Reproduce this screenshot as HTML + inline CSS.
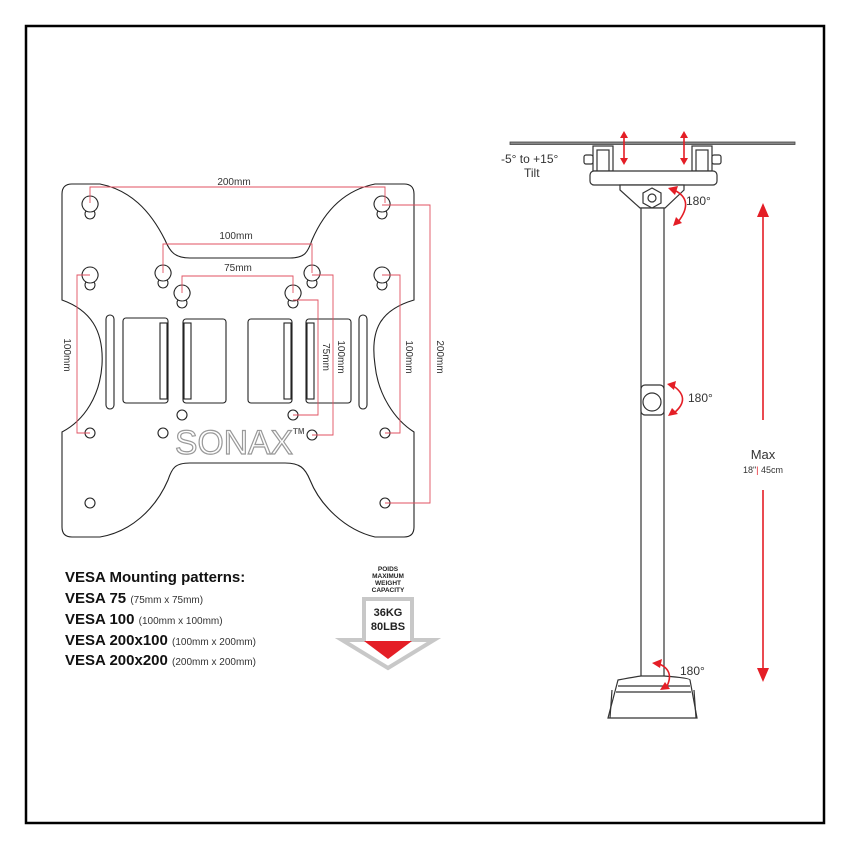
<!DOCTYPE html>
<html><head><meta charset="utf-8"><style>
html,body{margin:0;padding:0;background:#fff}
svg{display:block}
text{font-family:"Liberation Sans",sans-serif}
</style></head><body>
<svg width="850" height="850" viewBox="0 0 850 850" xmlns="http://www.w3.org/2000/svg">
<rect x="0" y="0" width="850" height="850" fill="#fff"/>
<rect x="26" y="26" width="798" height="797" fill="none" stroke="#000" stroke-width="2.5"/>

<!-- plate -->
<g fill="none" stroke="#222" stroke-width="1.1">
<path d="M72,184 L100,184 C130,190 150,210 165,240 C170,252 175,258 190,258 L290,258 C305,258 308,252 312,240 C325,210 345,190 375,184 L404,184 Q414,184 414,194 L414,300 C380,310 370,330 375,365 C378,395 395,420 414,432 L414,527 Q414,537 404,537 L375,537 C345,530 320,505 310,480 C305,468 300,463 285,463 L190,463 C175,463 172,468 168,480 C155,510 130,532 100,537 L72,537 Q62,537 62,527 L62,432 C85,420 100,395 102,365 C104,330 90,310 62,300 L62,194 Q62,184 72,184 Z"/>
<path d="M90,212 a8,8 0 1,1 0.1,0 M86,211 a5,5 0 1,0 8,0"/>
<path d="M382,212 a8,8 0 1,1 0.1,0 M378,211 a5,5 0 1,0 8,0"/>
<path d="M90,283 a8,8 0 1,1 0.1,0 M86,282 a5,5 0 1,0 8,0"/>
<path d="M163,281 a8,8 0 1,1 0.1,0 M159,280 a5,5 0 1,0 8,0"/>
<path d="M312,281 a8,8 0 1,1 0.1,0 M308,280 a5,5 0 1,0 8,0"/>
<path d="M382,283 a8,8 0 1,1 0.1,0 M378,282 a5,5 0 1,0 8,0"/>
<path d="M182,301 a8,8 0 1,1 0.1,0 M178,300 a5,5 0 1,0 8,0"/>
<path d="M293,301 a8,8 0 1,1 0.1,0 M289,300 a5,5 0 1,0 8,0"/>
<rect x="106" y="315" width="8" height="94" rx="4"/>
<rect x="359" y="315" width="8" height="94" rx="4"/>
<rect x="123" y="318" width="45" height="85" rx="3"/>
<rect x="160" y="323" width="7" height="76"/>
<rect x="183" y="319" width="43" height="84" rx="3"/>
<rect x="184" y="323" width="7" height="76"/>
<rect x="248" y="319" width="44" height="84" rx="3"/>
<rect x="284" y="323" width="7" height="76"/>
<rect x="306" y="319" width="45" height="84" rx="3"/>
<rect x="307" y="323" width="7" height="76"/>
<circle cx="182" cy="415" r="5"/><circle cx="293" cy="415" r="5"/>
<circle cx="90" cy="433" r="5"/><circle cx="163" cy="433" r="5"/>
<circle cx="312" cy="435" r="5"/><circle cx="385" cy="433" r="5"/>
<circle cx="90" cy="503" r="5"/><circle cx="385" cy="503" r="5"/>
</g>
<text x="175" y="454" font-size="34" fill="#fff" stroke="#999" stroke-width="1.2" textLength="118" lengthAdjust="spacingAndGlyphs">SONAX</text>
<text x="293" y="434" font-size="8" font-weight="bold" fill="#666">TM</text>

<g fill="none" stroke="#e05060" stroke-width="0.9">
<path d="M90,203 V187 H385 V203"/>
<path d="M163,273 V244 H312 V273"/>
<path d="M182,293 V276 H293 V293"/>
<path d="M90,275 H77 V433 H90"/>
<path d="M293,300 H318 V415 H293"/>
<path d="M312,275 H333 V435 H312"/>
<path d="M382,275 H400 V433 H385"/>
<path d="M382,205 H430 V503 H385"/>
</g>
<g font-size="10" fill="#333">
<text x="234" y="185" text-anchor="middle">200mm</text>
<text x="236" y="239" text-anchor="middle">100mm</text>
<text x="238" y="271" text-anchor="middle">75mm</text>
<text transform="translate(64,355) rotate(90)" text-anchor="middle">100mm</text>
<text transform="translate(323,357) rotate(90)" text-anchor="middle">75mm</text>
<text transform="translate(338,357) rotate(90)" text-anchor="middle">100mm</text>
<text transform="translate(406,357) rotate(90)" text-anchor="middle">100mm</text>
<text transform="translate(437,357) rotate(90)" text-anchor="middle">200mm</text>
</g>

<g fill="#111">
<text x="65" y="582" font-size="15" font-weight="bold">VESA Mounting patterns:</text>
<text x="65" y="603" font-size="15" font-weight="bold">VESA 75 <tspan font-size="10" font-weight="normal" fill="#333">(75mm x 75mm)</tspan></text>
<text x="65" y="624" font-size="15" font-weight="bold">VESA 100 <tspan font-size="10" font-weight="normal" fill="#333"> (100mm x 100mm)</tspan></text>
<text x="65" y="645" font-size="15" font-weight="bold">VESA 200x100 <tspan font-size="10" font-weight="normal" fill="#333">(100mm x 200mm)</tspan></text>
<text x="65" y="665" font-size="15" font-weight="bold">VESA 200x200 <tspan font-size="10" font-weight="normal" fill="#333">(200mm x 200mm)</tspan></text>
</g>
<g font-size="6.5" font-weight="bold" fill="#222" text-anchor="middle">
<text x="388" y="571">POIDS</text><text x="388" y="578">MAXIMUM</text><text x="388" y="585">WEIGHT</text><text x="388" y="592">CAPACITY</text>
</g>
<path d="M364,599 H412 V640 H434 L388,668 L342,640 H364 Z" fill="#fff" stroke="#c8c8c8" stroke-width="4"/>
<path d="M364,641 H412 L388,659 Z" fill="#e41e26"/>
<text x="388" y="616" font-size="11" font-weight="bold" text-anchor="middle" fill="#222">36KG</text>
<text x="388" y="630" font-size="11" font-weight="bold" text-anchor="middle" fill="#222">80LBS</text>

<g fill="#fff" stroke="#333" stroke-width="1.2">
<rect x="510" y="142" width="285" height="2.5" fill="#888" stroke="#444" stroke-width="0.8"/>
<rect x="593" y="146" width="20" height="25"/><rect x="597" y="150" width="12" height="21"/>
<rect x="692" y="146" width="20" height="25"/><rect x="696" y="150" width="12" height="21"/>
<rect x="584" y="155" width="9" height="9" rx="2"/><rect x="712" y="155" width="9" height="9" rx="2"/>
<rect x="590" y="171" width="127" height="14" rx="4"/>
<path d="M620,185 H684 V190 L665,208 H640 L620,190 Z"/>
<rect x="641" y="208" width="23" height="472"/>
<polygon points="652,188 661,193 661,203 652,208 643,203 643,193"/>
<circle cx="652" cy="198" r="4"/>
<rect x="641" y="385" width="23" height="30" rx="4"/>
<circle cx="652" cy="402" r="9"/>
<path d="M618,680 Q640,676 641,676 H664 Q690,678 690,680 L697,718 H608 Z"/>
<path d="M618,686 H690 M616,692 H691 M612,690 L610,718 M694,690 L696,718"/>
</g>
<g stroke="#e41e26" stroke-width="1.6" fill="none">
<path d="M624,136 V160 M684,136 V160"/>
<path d="M674,190 Q695,200 678,222"/>
<path d="M672,385 Q692,398 674,413"/>
<path d="M657,663 Q676,670 666,688"/>
<path d="M763,215 V420 M763,490 V670"/>
</g>
<g fill="#e41e26">
<path d="M620,138 L624,131 L628,138 Z M620,158 L624,165 L628,158 Z"/>
<path d="M680,138 L684,131 L688,138 Z M680,158 L684,165 L688,158 Z"/>
<path d="M668,188 L678,186 L675,195 Z M673,226 L682,223 L676,217 Z"/>
<path d="M667,384 L676,381 L674,390 Z M668,416 L678,414 L672,408 Z"/>
<path d="M652,663 L662,659 L660,668 Z M660,690 L670,689 L665,682 Z"/>
<path d="M757,217 L763,203 L769,217 Z M757,668 L763,682 L769,668 Z"/>
</g>
<g fill="#333">
<text x="501" y="163" font-size="12">-5° to +15°</text>
<text x="524" y="177" font-size="12">Tilt</text>
<text x="686" y="205" font-size="12">180°</text>
<text x="688" y="402" font-size="12">180°</text>
<text x="680" y="675" font-size="12">180°</text>
<text x="763" y="459" font-size="13" text-anchor="middle">Max</text>
<text x="763" y="473" font-size="9" text-anchor="middle">18"<tspan fill="#e41e26">|</tspan> 45cm</text>
</g>
</svg>
</body></html>
